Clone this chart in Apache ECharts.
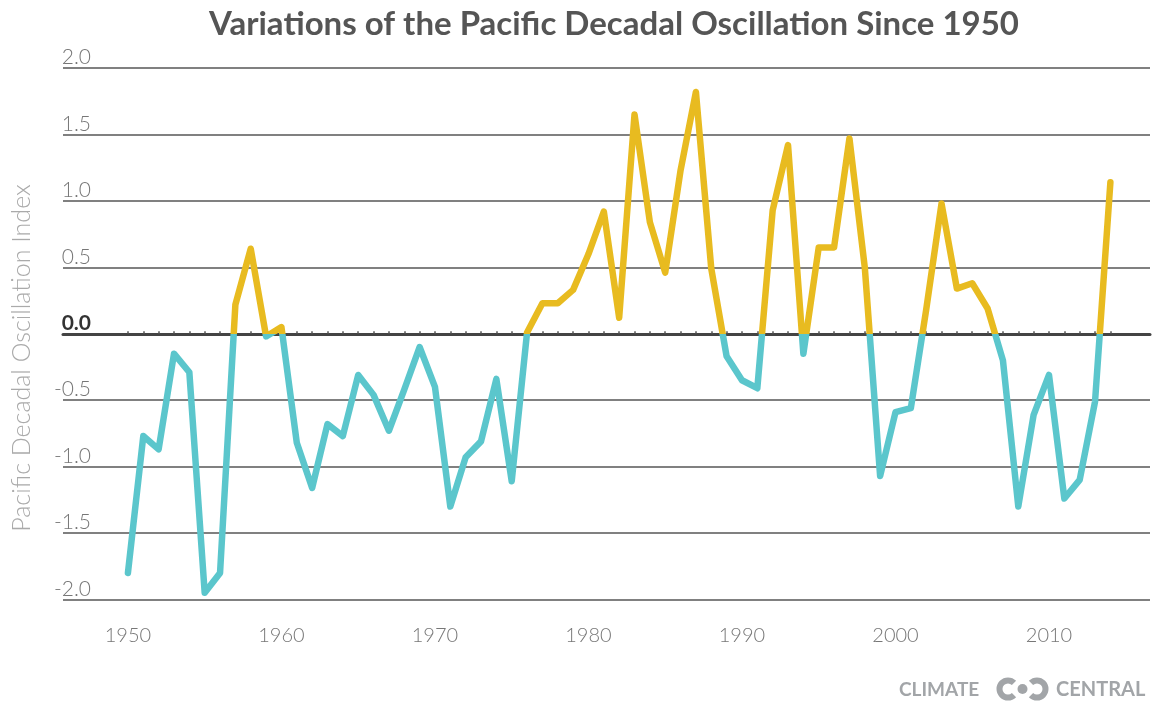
<!DOCTYPE html>
<html>
<head>
<meta charset="utf-8">
<title>Pacific Decadal Oscillation</title>
<script src="https://cdn.jsdelivr.net/npm/echarts@6/dist/echarts.min.js"></script>
<style>
  html, body { margin: 0; padding: 0; background: #fff; }
  #chart { width: 1152px; height: 705px; }
</style>
</head>
<body>
<div id="chart"></div>
<script>
// annual PDO index
const years = [
  1950, 1951, 1952, 1953, 1954, 1955, 1956, 1957, 1958, 1959,
  1960, 1961, 1962, 1963, 1964, 1965, 1966, 1967, 1968, 1969,
  1970, 1971, 1972, 1973, 1974, 1975, 1976, 1977, 1978, 1979,
  1980, 1981, 1982, 1983, 1984, 1985, 1986, 1987, 1988, 1989,
  1990, 1991, 1992, 1993, 1994, 1995, 1996, 1997, 1998, 1999,
  2000, 2001, 2002, 2003, 2004, 2005, 2006, 2007, 2008, 2009,
  2010, 2011, 2012, 2013, 2014
]
const pdoIndex = [
  -1.80, -0.77, -0.87, -0.15, -0.29, -1.95, -1.80, 0.22, 0.64, -0.02,
  0.05, -0.82, -1.16, -0.68, -0.77, -0.31, -0.46, -0.73, -0.42, -0.10,
  -0.40, -1.30, -0.93, -0.81, -0.34, -1.11, 0.01, 0.23, 0.23, 0.33,
  0.60, 0.92, 0.12, 1.65, 0.84, 0.46, 1.23, 1.82, 0.49, -0.17,
  -0.35, -0.41, 0.93, 1.42, -0.15, 0.65, 0.65, 1.47, 0.50, -1.07,
  -0.59, -0.56, 0.18, 0.98, 0.34, 0.38, 0.19, -0.20, -1.30, -0.61,
  -0.31, -1.24, -1.10, -0.51, 1.14
]
const yearLabels = [1950, 1960, 1970, 1980, 1990, 2000, 2010]

const WARM = '#e8bb20'
const COOL = '#5bc6cc'
const LOGO_GREY = '#a2a5a8'
const X_MIN = 1945.77
const X_MAX = 2016.58

const chart = echarts.init(document.getElementById('chart'))

const option = {
  animation: false,
  title: {
    text: 'Variations of the Pacific Decadal Oscillation Since 1950',
    left: 609,
    top: 3,
    textAlign: 'center',
    textStyle: {
      fontFamily: 'Lato',
      fontSize: 33,
      fontWeight: 'bold',
      color: '#555'
    }
  },
  grid: { left: 63, right: 2, top: 68, bottom: 105.5, outerBoundsMode: 'none' },
  xAxis: [
    {
      // zero line with a tick per year
      type: 'value',
      min: X_MIN,
      max: X_MAX,
      splitLine: { show: false },
      axisLine: { onZero: true, lineStyle: { color: '#444', width: 3 } },
      axisTick: {
        show: true,
        inside: true,
        length: 2.5,
        customValues: years,
        lineStyle: { color: '#555', width: 1.5 }
      },
      axisLabel: { show: false }
    },
    {
      // decade labels along the bottom
      type: 'value',
      position: 'bottom',
      min: X_MIN,
      max: X_MAX,
      splitLine: { show: false },
      axisLine: { show: false, onZero: false },
      axisTick: { show: false },
      axisLabel: {
        customValues: yearLabels,
        margin: 26,
        fontFamily: 'Lato',
        fontWeight: 300,
        fontSize: 20,
        color: '#777',
        formatter: v => String(v)
      }
    }
  ],
  yAxis: {
    type: 'value',
    min: -2,
    max: 2,
    interval: 0.5,
    axisLine: { show: false },
    axisTick: { show: false },
    splitLine: { lineStyle: { color: '#808080', width: 2 } },
    axisLabel: {
      inside: true,
      margin: 28,
      align: 'right',
      verticalAlign: 'bottom',
      padding: [0, 0, 0, 0],
      fontFamily: 'Lato',
      fontWeight: 300,
      fontSize: 21,
      color: '#777',
      formatter: v => (v === 0 ? '{zero|0.0}' : v.toFixed(1)),
      rich: {
        zero: { fontFamily: 'Lato', fontWeight: 'bold', fontSize: 21, color: '#333' }
      }
    }
  },
  visualMap: {
    show: false,
    type: 'piecewise',
    dimension: 1,
    seriesIndex: 0,
    pieces: [
      { gt: 0, lte: 5, color: WARM },
      { gt: -5, lte: 0, color: COOL }
    ]
  },
  series: [{
    type: 'line',
    xAxisIndex: 0,
    data: years.map((y, i) => [y, pdoIndex[i]]),
    showSymbol: false,
    lineStyle: { width: 6.5, cap: 'round', join: 'round' },
    z: 3
  }],
  graphic: [
    {
      type: 'text',
      x: 22,
      y: 358,
      rotation: Math.PI / 2,
      style: {
        text: 'Pacific Decadal Oscillation Index',
        fontFamily: 'Lato',
        fontWeight: 300,
        fontSize: 25,
        fill: '#aaa',
        align: 'center',
        verticalAlign: 'middle'
      }
    },
    {
      type: 'text',
      x: 899,
      y: 690,
      style: {
        text: 'CLIMATE',
        fontFamily: 'Lato',
        fontWeight: 'bold',
        fontSize: 19,
        fill: LOGO_GREY,
        verticalAlign: 'middle'
      }
    },
    {
      type: 'arc',
      shape: { cx: 1008, cy: 689, r: 8.5, startAngle: Math.PI * 0.25, endAngle: Math.PI * 1.75, clockwise: true },
      style: { stroke: LOGO_GREY, lineWidth: 6, fill: null }
    },
    {
      type: 'circle',
      shape: { cx: 1022.5, cy: 689, r: 5 },
      style: { fill: LOGO_GREY }
    },
    {
      type: 'arc',
      shape: { cx: 1037, cy: 689, r: 8.5, startAngle: Math.PI * 1.25, endAngle: Math.PI * 0.75, clockwise: true },
      style: { stroke: LOGO_GREY, lineWidth: 6, fill: null }
    },
    {
      type: 'text',
      x: 1056,
      y: 690,
      style: {
        text: 'CENTRAL',
        fontFamily: 'Lato',
        fontWeight: 'bold',
        fontSize: 20,
        fill: LOGO_GREY,
        verticalAlign: 'middle'
      }
    }
  ]
}

chart.setOption(option)
</script>
</body>
</html>
